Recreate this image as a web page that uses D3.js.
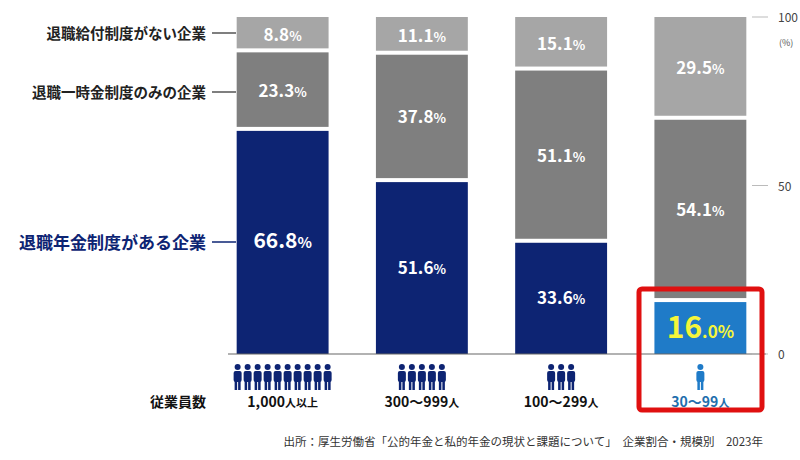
<!DOCTYPE html>
<html><head><meta charset="utf-8">
<script src="https://cdn.jsdelivr.net/npm/d3@7"></script>
<style>body{margin:0;background:#fff}text{font-family:"Noto Sans CJK JP","Noto Sans",sans-serif}</style>
</head><body><svg id="c" width="800" height="460"></svg>
<script>
const sizes = ['1,000', '300〜999', '100〜299', '30〜99'];
const sizeSuffix = ['人以上', '人', '人', '人'];
const people = [10, 5, 3, 1];
const pension = [66.8, 51.6, 33.6, 16.0];
const lumpSum = [23.3, 37.8, 51.1, 54.1];
const none = [8.8, 11.1, 15.1, 29.5];
const ticks = [0, 50, 100];
const rowLabels = ['退職給付制度がない企業', '退職一時金制度のみの企業', '退職年金制度がある企業'];

const svg = d3.select('#c');
const x = d3.scaleBand().domain(sizes).range([213, 770]).paddingInner(0.34).paddingOuter(0.17);
const y = d3.scaleLinear().domain([0, 100]).range([354, 17]);

const rows = sizes.map((s, i) => {
  const a = pension[i], b = lumpSum[i], c = none[i];
  return [
    { key: 'pension', lo: 0, hi: a, v: a, i },
    { key: 'lump', lo: a, hi: a + b, v: b, i },
    { key: 'none', lo: a + b, hi: 100, v: c, i }
  ];
}).flat();

const fill = d => d.key === 'none' ? '#a6a6a6' : d.key === 'lump' ? '#7f7f7f' : (d.i === 3 ? '#1f7bc8' : '#0d2473');

svg.selectAll('rect.seg').data(rows).join('rect').attr('class', 'seg')
  .attr('x', d => x(sizes[d.i]))
  .attr('width', x.bandwidth())
  .attr('y', d => y(d.hi) + (d.key === 'none' ? 0 : 2))
  .attr('height', d => y(d.lo) - y(d.hi) - (d.key === 'none' ? 2 : d.key === 'lump' ? 4 : 2))
  .attr('fill', fill);

// baseline
svg.append('line').attr('x1', 228).attr('x2', 766).attr('y1', y(0)).attr('y2', y(0)).attr('stroke', '#666').attr('stroke-width', 1.2);

// value labels
const lab = svg.selectAll('text.v').data(rows).join('text').attr('class', 'v')
  .attr('x', d => x(sizes[d.i]) + x.bandwidth() / 2)
  .attr('y', d => (y(d.lo) + y(d.hi)) / 2 + 7)
  .attr('text-anchor', 'middle').attr('fill', '#fff').attr('font-weight', 'bold');
lab.each(function (d) {
  const t = d3.select(this);
  if (d.i === 3 && d.key === 'pension') {
    t.attr('fill', '#f5f53a');
    t.append('tspan').attr('font-size', 30).text('16');
    t.append('tspan').attr('font-size', 17).text('.0%');
    t.attr('y', (y(d.lo) + y(d.hi)) / 2 + 11);
  } else {
    const big = d.key === 'pension' && d.i === 0;
    t.append('tspan').attr('font-size', big ? 21 : 17).text(d.v.toFixed(1));
    t.append('tspan').attr('font-size', big ? 15 : 13).text('%');
  }
});

// right axis
ticks.forEach(t => {
  svg.append('line').attr('x1', 752).attr('x2', 768).attr('y1', y(t)).attr('y2', y(t)).attr('stroke', '#bbb');
  svg.append('text').attr('x', 778).attr('y', y(t) + 5).attr('font-size', 12).attr('fill', '#444').text(t);
});
svg.append('text').attr('x', 779).attr('y', 46).attr('font-size', 9).attr('fill', '#555').text('(%)');

// row labels
const rowY = [33, 92, 242];
rowLabels.forEach((l, k) => {
  const last = k === 2;
  svg.append('text').attr('x', 206).attr('y', rowY[k] + (last ? 7 : 6)).attr('text-anchor', 'end')
    .attr('font-size', last ? 17 : 14.5).attr('font-weight', 'bold').attr('fill', last ? '#0d2473' : '#222').text(l);
  svg.append('line').attr('x1', 212).attr('x2', 236).attr('y1', rowY[k]).attr('y2', rowY[k])
    .attr('stroke', last ? '#0d2473' : '#555').attr('stroke-width', 1.5);
});

// people icons
function person (g, cx, top, col) {
  g.append('circle').attr('cx', cx).attr('cy', top + 3).attr('r', 3).attr('fill', col);
  g.append('rect').attr('x', cx - 4).attr('y', top + 7).attr('width', 8).attr('height', 11).attr('rx', 2).attr('fill', col);
  g.append('rect').attr('x', cx - 3).attr('y', top + 15).attr('width', 2.5).attr('height', 11).attr('fill', col);
  g.append('rect').attr('x', cx + 0.5).attr('y', top + 15).attr('width', 2.5).attr('height', 11).attr('fill', col);
}
sizes.forEach((s, i) => {
  const cx = x(s) + x.bandwidth() / 2;
  const col = i === 3 ? '#1f7bc8' : '#0d2473';
  const step = 10;
  for (let k = 0; k < people[i]; k++) person(svg, cx - (people[i] - 1) * step / 2 + k * step, 364, col);
  const t = svg.append('text').attr('x', cx).attr('y', 407).attr('text-anchor', 'middle')
    .attr('font-weight', 'bold').attr('fill', i === 3 ? '#1f6fae' : '#111');
  t.append('tspan').attr('font-size', 14).text(s);
  t.append('tspan').attr('font-size', 11).text(sizeSuffix[i]);
});
svg.append('text').attr('x', 206).attr('y', 407).attr('text-anchor', 'end').attr('font-size', 14)
  .attr('font-weight', 'bold').attr('fill', '#111').text('従業員数');

// highlight box
svg.append('rect').attr('x', 639).attr('y', 289).attr('width', 123).attr('height', 121).attr('rx', 3)
  .attr('fill', 'none').attr('stroke', '#e01010').attr('stroke-width', 5);

svg.append('text').attr('x', 763).attr('y', 446).attr('text-anchor', 'end').attr('font-size', 11.5).attr('fill', '#333')
  .text('出所：厚生労働省「公的年金と私的年金の現状と課題について」　企業割合・規模別　2023年');
</script></body></html>
